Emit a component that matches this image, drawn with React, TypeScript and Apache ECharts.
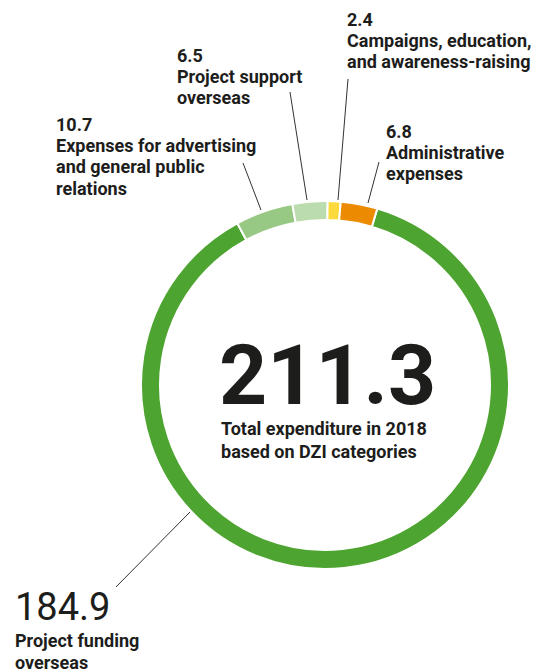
import React, { useEffect, useRef } from "react";
import * as echarts from "echarts";

// ---- data ----
const categories = [
  "Project funding overseas",
  "Expenses for advertising and general public relations",
  "Project support overseas",
  "Campaigns, education, and awareness-raising",
  "Administrative expenses",
];
const values = [184.9, 10.7, 6.5, 2.4, 6.8];
const labelLines = [
  ["Project funding", "overseas"],
  ["Expenses for advertising", "and general public", "relations"],
  ["Project support", "overseas"],
  ["Campaigns, education,", "and awareness-raising"],
  ["Administrative", "expenses"],
];
const totalLabel = ["Total expenditure in 2018", "based on DZI categories"];
const colors = ["#4ea431", "#97c985", "#bbdcae", "#fcda3c", "#ec8a00"];

const FONT = "Roboto, 'Liberation Sans', Arial, sans-serif";
const TEXT = "#1d1d1b";

export default function App() {
  const ref = useRef<HTMLDivElement>(null);
  useEffect(() => {
    document.body.style.margin = "0";
    const chart = echarts.init(ref.current!, null, { renderer: "svg" });
    const total = values.reduce((a, b) => a + b, 0);

    // label placement (left x, first baseline, number font size)
    const place = [
      { x: 15, base: 619, size: 38, weight: "normal" },
      { x: 56, base: 130, size: 18, weight: "bold" },
      { x: 177, base: 61, size: 18, weight: "bold" },
      { x: 347, base: 25, size: 18, weight: "bold" },
      { x: 386, base: 137, size: 18, weight: "bold" },
    ];
    const leaders = [
      [190, 512, 116, 587],
      [261, 210, 243, 163],
      [307, 200, 290, 92],
      [338, 200, 348, 79],
      [368, 203, 379, 162],
    ];
    const LH = 21.3;
    const graphics: any[] = [];
    const textAt = (
      text: string,
      x: number,
      baseline: number,
      size: number,
      weight: any,
      lh?: number
    ) => ({
      type: "text",
      x,
      y: baseline - size * 0.32,
      style: {
        text,
        font: `${weight} ${size}px ${FONT}`,
        fill: TEXT,
        align: "left",
        verticalAlign: "middle",
        lineHeight: lh ?? size,
      },
    });
    values.forEach((v, i) => {
      const p = place[i];
      graphics.push(textAt(v.toFixed(1), p.x, p.base, p.size, p.weight, p.size * 0.8));
      const first = i === 0 ? p.base + 27.5 : p.base + LH;
      labelLines[i].forEach((ln, j) => {
        graphics.push(textAt(ln, p.x, first + j * LH, 18, "bold", 16));
      });
      const l = leaders[i];
      graphics.push({
        type: "line",
        shape: { x1: l[0], y1: l[1], x2: l[2], y2: l[3] },
        style: { stroke: "#333", lineWidth: 1 },
      });
    });
    graphics.push(textAt(total.toFixed(1), 219, 402, 84, "bold", 62));
    totalLabel.forEach((ln, j) => {
      graphics.push(textAt(ln, 221, 434 + j * 23, 18, "bold", 16));
    });

    chart.setOption({
      animation: false,
      backgroundColor: "#ffffff",
      series: [
        {
          type: "pie",
          center: [325, 385],
          radius: [165, 184],
          startAngle: 73.5,
          clockwise: true,
          label: { show: false },
          labelLine: { show: false },
          silent: true,
          itemStyle: { borderColor: "#ffffff", borderWidth: 2 },
          data: values.map((v, i) => ({
            name: categories[i],
            value: v,
            itemStyle: { color: colors[i] },
          })),
        },
      ],
      graphic: graphics,
    });
    return () => chart.dispose();
  }, []);
  return <div ref={ref} style={{ width: 533, height: 670 }} />;
}
